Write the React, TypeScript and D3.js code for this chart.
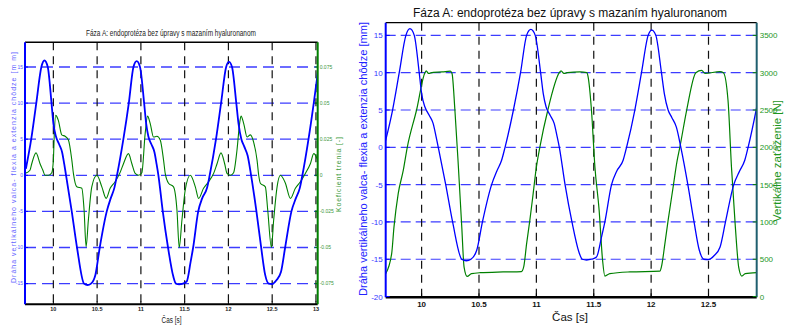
import React from 'react';
import * as d3 from 'd3';

// ---- data ----
const timeDisp = [9.686, 9.747, 9.805, 9.863, 9.898, 9.936, 9.979, 10.0, 10.029, 10.066, 10.10, 10.125, 10.145, 10.21, 10.27, 10.35, 10.39, 10.43, 10.48, 10.53, 10.61, 10.655, 10.697, 10.727, 10.80, 10.862, 10.915, 10.952, 10.99, 11.037, 11.06, 11.085, 11.12, 11.155, 11.18, 11.2, 11.25, 11.31, 11.37, 11.40, 11.437, 11.48, 11.524, 11.568, 11.597, 11.655, 11.70, 11.756, 11.786, 11.858, 11.916, 11.974, 12.006, 12.041, 12.09, 12.115, 12.148, 12.18, 12.22, 12.259, 12.32, 12.374, 12.42, 12.46, 12.497, 12.55, 12.6, 12.648, 12.72, 12.77, 12.816, 12.845, 12.915, 12.975, 13.03];
const dispMm = [0.9, 5, 10, 15, 15.9, 15, 10, 7.2, 5.4, 4.3, 3.2, 1.5, 0, -5, -10, -15, -15.2, -15.0, -13.8, -10, -5, -3.2, -1.74, 0, 5, 10, 15, 15.8, 15, 10, 7.2, 5.4, 4.3, 3.2, 1.5, 0, -5, -10, -14, -15, -15.1, -15.0, -14.7, -12.0, -10, -5, -3.2, -1.74, 0, 5, 10, 15, 15.7, 15, 10, 7.2, 5, 4.0, 2.7, 0, -5, -10, -13.8, -15, -15.06, -14.5, -13.4, -10, -5, -3.2, -1.74, 0, 5, 10, 15];

const timeForce = [9.687, 9.739, 9.759, 9.796, 9.84, 9.875, 9.956, 10.029, 10.04, 10.06, 10.10, 10.18, 10.25, 10.265, 10.29, 10.32, 10.35, 10.37, 10.397, 10.435, 10.51, 10.71, 10.87, 10.89, 10.915, 10.943, 10.972, 11.0, 11.03, 11.10, 11.2, 11.215, 11.24, 11.27, 11.38, 11.44, 11.45, 11.48, 11.51, 11.547, 11.577, 11.597, 11.64, 11.815, 12.076, 12.09, 12.12, 12.148, 12.19, 12.227, 12.25, 12.31, 12.39, 12.44, 12.47, 12.6, 12.63, 12.67, 12.7, 12.734, 12.763, 12.79, 12.82, 12.918];
const forceN = [307, 575, 930, 1380, 1690, 2000, 2500, 3000, 3025, 2990, 3005, 3010, 3020, 2990, 2500, 1750, 930, 395, 270, 307, 320, 330, 335, 400, 710, 1020, 1380, 1735, 2000, 2500, 3000, 3025, 2990, 3000, 3010, 3000, 2950, 2500, 1740, 1155, 485, 275, 307, 330, 340, 400, 710, 1020, 1450, 1826, 2000, 2500, 3000, 3030, 2990, 3015, 3000, 2630, 1740, 930, 395, 275, 307, 320];

const timeCoef = [9.676, 9.733, 9.753, 9.802, 9.848, 9.879, 9.905, 9.943, 9.982, 10.0, 10.011, 10.027, 10.057, 10.096, 10.134, 10.172, 10.211, 10.229, 10.268, 10.325, 10.351, 10.374, 10.400, 10.439, 10.497, 10.554, 10.603, 10.649, 10.706, 10.763, 10.801, 10.858, 10.897, 10.935, 10.973, 11.011, 11.049, 11.076, 11.106, 11.144, 11.183, 11.221, 11.259, 11.278, 11.316, 11.373, 11.412, 11.438, 11.469, 11.507, 11.564, 11.622, 11.659, 11.716, 11.773, 11.831, 11.870, 11.915, 11.957, 11.984, 12.022, 12.059, 12.098, 12.128, 12.144, 12.174, 12.213, 12.251, 12.288, 12.327, 12.346, 12.365, 12.422, 12.449, 12.491, 12.517, 12.556, 12.594, 12.651, 12.708, 12.765, 12.822, 12.879, 12.936, 12.975, 13.014, 13.03];
const coefF = [0.0013, 0.0035, 0.008, 0.0155, 0.008, 0.0036, 0, 0, 0.0018, 0.0105, 0.029, 0.0415, 0.038, 0.028, 0.027, 0.0245, 0.0105, 0.0013, -0.008, -0.009, -0.024, -0.0495, -0.031, -0.008, 0, -0.008, -0.016, -0.009, -0.0045, 0.002, 0.008, 0.015, 0.008, 0.0013, 0, 0.0018, 0.029, 0.041, 0.036, 0.0265, 0.027, 0.0245, 0.0105, 0.0013, -0.0055, -0.008, -0.024, -0.05, -0.031, -0.01, 0, -0.008, -0.016, -0.009, -0.0045, 0.0013, 0.008, 0.0155, 0.008, 0.0013, 0, 0.0018, 0.0175, 0.036, 0.041, 0.036, 0.0265, 0.028, 0.023, 0.0105, 0, -0.0055, -0.008, -0.024, -0.05, -0.031, -0.008, 0, -0.0055, -0.016, -0.009, -0.0045, 0.0013, 0.008, 0.015, 0.0115, 0.009];

const xTicksLeft = [10, 10.5, 11, 11.5, 12, 12.5, 13];
const xTicksRight = [10, 10.5, 11, 11.5, 12, 12.5];
const dispTicksLeft = [15, 10, 5, 0, -5, -10, -15];
const dispTicksRight = [15, 10, 5, 0, -5, -10, -15, -20];
const coefTicks = [0.075, 0.05, 0.025, 0, -0.025, -0.05, -0.075];
const coefTickLabels = ['0.075', '0.05', '0.025', '0', '-0.025', '-0.05', '-0.075'];
const forceTicks = [3500, 3000, 2500, 2000, 1500, 1000, 500, 0];

const titleText = 'Fáza A: endoprotéza bez úpravy s mazaním hyaluronanom';
const yLabelLeftSmall = 'Dráha vertikálneho valca- flexia a extenzia chôdze [m m]';
const yLabelLeftBig = 'Dráha vertikálneho valca- flexia a extenzia chôdze [mm]';
const y2LabelSmall = 'Koeficient trenia [-]';
const y2LabelBig = 'Vertikálne zaťaženie [N]';
const xLabel = 'Čas [s]';

const FONT = 'Liberation Sans, Arial, sans-serif';
const BLUE = '#0000ff';
const GRIDBLUE = '#3c3cff';
const GREEN = '#008000';

export default function App() {
  // ---- left (small) panel ----
  const L = { x0: 25, x1: 317.7, y0: 42.3, y1: 304.3 };
  const lx = d3.scaleLinear().domain([9.676, 13.02]).range([L.x0, L.x1]);
  const ly = d3.scaleLinear().domain([-17.87, 18.42]).range([L.y1, L.y0]);
  const lyc = d3.scaleLinear().domain([-17.87 * 0.005, 18.42 * 0.005]).range([L.y1, L.y0]);

  // ---- right (large) panel ----
  const R = { x0: 385.7, x1: 756.7, y0: 22.7, y1: 297.3 };
  const rx = d3.scaleLinear().domain([9.687, 12.92]).range([R.x0, R.x1]);
  const ry = d3.scaleLinear().domain([-20.1, 16.7]).range([R.y1, R.y0]);
  const ryf = d3.scaleLinear().domain([-10, 3670]).range([R.y1, R.y0]);

  const dispPts = timeDisp.map((t, i) => [t, dispMm[i]] as [number, number]);
  const forcePts = timeForce.map((t, i) => [t, forceN[i]] as [number, number]);
  const coefPts = timeCoef.map((t, i) => [t, coefF[i]] as [number, number]);

  const lineLB = d3.line<[number, number]>().x(d => lx(d[0])).y(d => ly(d[1])).curve(d3.curveMonotoneX)(dispPts) || '';
  const lineLG = d3.line<[number, number]>().x(d => lx(d[0])).y(d => lyc(d[1])).curve(d3.curveMonotoneX)(coefPts) || '';
  const lineRB = d3.line<[number, number]>().x(d => rx(d[0])).y(d => ry(d[1])).curve(d3.curveMonotoneX)(dispPts) || '';
  const lineRG = d3.line<[number, number]>().x(d => rx(d[0])).y(d => ryf(d[1])).curve(d3.curveMonotoneX)(forcePts) || '';

  return (
    <svg width={786} height={329} style={{ position: 'absolute', left: 0, top: 0, background: '#fff' }} fontFamily={FONT}>
      <defs>
        <clipPath id="clipL"><rect x={L.x0} y={L.y0} width={L.x1 - L.x0} height={L.y1 - L.y0} /></clipPath>
        <clipPath id="clipR"><rect x={R.x0} y={R.y0} width={R.x1 - R.x0} height={R.y1 - R.y0} /></clipPath>
      </defs>
      <rect x={0} y={0} width={786} height={329} fill="#fff" />

      {/* ================= LEFT PANEL ================= */}
      <g>
        {dispTicksLeft.map(v => (
          <line key={'lh' + v} x1={L.x0} x2={L.x1} y1={ly(v)} y2={ly(v)} stroke={GRIDBLUE} strokeWidth={1.3} strokeDasharray="11 6" />
        ))}
        {xTicksLeft.map(t => (
          <line key={'lv' + t} x1={lx(t)} x2={lx(t)} y1={L.y0} y2={L.y1} stroke="#111" strokeWidth={1.2} strokeDasharray="8 6" />
        ))}
        <g clipPath="url(#clipL)">
          <path d={lineLG} fill="none" stroke={GREEN} strokeWidth={1.1} />
          <path d={lineLB} fill="none" stroke={BLUE} strokeWidth={1.8} />
        </g>
        {/* spines */}
        <line x1={L.x0} x2={L.x1} y1={L.y0} y2={L.y0} stroke="#000" strokeWidth={1.5} />
        <line x1={L.x0} x2={L.x1} y1={L.y1} y2={L.y1} stroke="#000" strokeWidth={2} />
        <line x1={L.x0} x2={L.x0} y1={L.y0} y2={L.y1} stroke={BLUE} strokeWidth={2} />
        <line x1={L.x1} x2={L.x1} y1={L.y0} y2={L.y1} stroke={GREEN} strokeWidth={2} />
        {/* ticks */}
        {dispTicksLeft.map(v => (
          <g key={'lyt' + v}>
            <line x1={L.x0} x2={L.x0 + 3} y1={ly(v)} y2={ly(v)} stroke={BLUE} strokeWidth={1} />
            <text x={L.x0 - 2} y={ly(v) + 1.8} fontSize={5} fill="#5c5cff" textAnchor="end">{v}</text>
          </g>
        ))}
        {coefTicks.map((c, i) => (
          <g key={'lct' + c}>
            <line x1={L.x1 - 3} x2={L.x1} y1={lyc(c)} y2={lyc(c)} stroke={GREEN} strokeWidth={1} />
            <text x={L.x1 + 2} y={lyc(c) + 1.8} fontSize={5} fill="#3a963a">{coefTickLabels[i]}</text>
          </g>
        ))}
        {xTicksLeft.map(t => (
          <g key={'lxt' + t}>
            <line x1={lx(t)} x2={lx(t)} y1={L.y1} y2={L.y1 - 3} stroke="#000" strokeWidth={1} />
            <text x={lx(t)} y={L.y1 + 7} fontSize={5.5} fontWeight="bold" fill="#222" textAnchor="middle">{t}</text>
          </g>
        ))}
        <text x={171} y={36} fontSize={8.5} fill="#222" textAnchor="middle" textLength={170} lengthAdjust="spacingAndGlyphs">{titleText}</text>
        <text x={171.5} y={322.5} fontSize={8.5} fill="#222" textAnchor="middle" textLength={20} lengthAdjust="spacingAndGlyphs">{xLabel}</text>
        <text transform={`translate(16,167.5) rotate(-90)`} fontSize={7} fill="#6464ff" textAnchor="middle" textLength={231} lengthAdjust="spacing">{yLabelLeftSmall}</text>
        <text transform={`translate(341,174.5) rotate(-90)`} fontSize={7} fill="#3a9a3a" textAnchor="middle" textLength={75} lengthAdjust="spacing">{y2LabelSmall}</text>
      </g>

      {/* ================= RIGHT PANEL ================= */}
      <g>
        {dispTicksRight.map(v => (
          <line key={'rh' + v} x1={R.x0} x2={R.x1} y1={ry(v)} y2={ry(v)} stroke={GRIDBLUE} strokeWidth={1.2} strokeDasharray="10 5" />
        ))}
        {xTicksRight.map(t => (
          <line key={'rv' + t} x1={rx(t)} x2={rx(t)} y1={R.y0} y2={R.y1} stroke="#111" strokeWidth={1.2} strokeDasharray="8 6" />
        ))}
        <g clipPath="url(#clipR)">
          <path d={lineRG} fill="none" stroke={GREEN} strokeWidth={1.2} />
          <path d={lineRB} fill="none" stroke={BLUE} strokeWidth={1.3} />
        </g>
        <line x1={R.x0} x2={R.x1} y1={R.y0} y2={R.y0} stroke="#000" strokeWidth={1.3} />
        <line x1={R.x0} x2={R.x1} y1={R.y1} y2={R.y1} stroke="#000" strokeWidth={2.5} />
        <line x1={R.x0} x2={R.x0} y1={R.y0} y2={R.y1} stroke={BLUE} strokeWidth={2} />
        <line x1={R.x1} x2={R.x1} y1={R.y0} y2={R.y1} stroke="#1f5f6f" strokeWidth={2} />
        {dispTicksRight.map(v => (
          <g key={'ryt' + v}>
            <line x1={R.x0} x2={R.x0 + 4} y1={ry(v)} y2={ry(v)} stroke={BLUE} strokeWidth={1} />
            <text x={R.x0 - 3} y={ry(v) + 3} fontSize={8} fill="#3535ff" textAnchor="end">{v}</text>
          </g>
        ))}
        {forceTicks.map(f => (
          <g key={'rft' + f}>
            <line x1={R.x1 - 4} x2={R.x1} y1={ryf(f)} y2={ryf(f)} stroke={GREEN} strokeWidth={1} />
            <text x={R.x1 + 3} y={ryf(f) + 3} fontSize={8} fill="#1e961e">{f}</text>
          </g>
        ))}
        {xTicksRight.map(t => (
          <g key={'rxt' + t}>
            <line x1={rx(t)} x2={rx(t)} y1={R.y1} y2={R.y1 - 4} stroke="#000" strokeWidth={1} />
            <text x={rx(t)} y={R.y1 + 10} fontSize={8} fontWeight="bold" fill="#111" textAnchor="middle">{t}</text>
          </g>
        ))}
        <text x={570} y={17} fontSize={12} fill="#111" textAnchor="middle">{titleText}</text>
        <text x={570} y={321} fontSize={11.5} fill="#111" textAnchor="middle">{xLabel}</text>
        <text transform={`translate(367,159) rotate(-90)`} fontSize={11.5} fill="#2222ff" textAnchor="middle" textLength={274} lengthAdjust="spacingAndGlyphs">{yLabelLeftBig}</text>
        <text transform={`translate(781,161) rotate(-90)`} fontSize={11.5} fill="#1e961e" textAnchor="middle">{y2LabelBig}</text>
      </g>
    </svg>
  );
}
